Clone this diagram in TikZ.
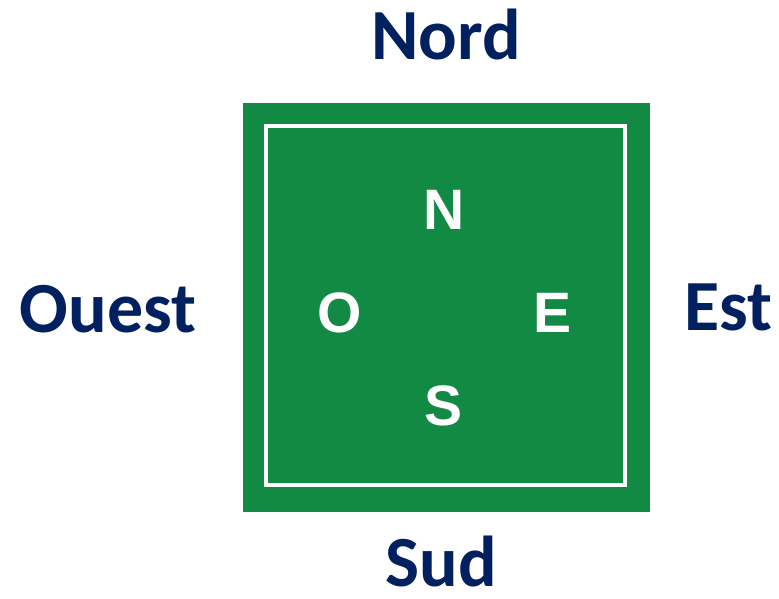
\documentclass[tikz,border=0pt]{standalone}
\usepackage{fontspec}
\setmainfont{Carlito}
\newfontfamily\letterfont{Liberation Sans}
\usetikzlibrary{positioning}

\definecolor{navy}{RGB}{0,32,96}
\definecolor{feltgreen}{RGB}{18,138,68}

\begin{document}
\begin{tikzpicture}[
    x=1pt, y=-1pt,
    direction/.style={anchor=base, inner sep=0pt, text=navy, font=\fontsize{72}{76}\selectfont\bfseries},
    letter/.style={anchor=base, inner sep=0pt, text=white, font=\letterfont\fontsize{57}{60}\selectfont\bfseries},
    frame/.style={draw=white, line width=3.5pt}
]

\useasboundingbox (0,0) rectangle (779,599);

% Board
\fill[feltgreen] (243,103) rectangle (650,512);
\draw[frame] (266,126) rectangle (625,485);

% Letters on the board
\node[letter] (n) at (444,229) {N};
\node[letter] (o) at (340,332) {O};
\node[letter] (e) at (553,332) {E};
\node[letter] (s) at (444,425) {S};

% Directions
\node[direction] (nord) at (446,60) {Nord};
\node[direction] (sud) at (441,586) {Sud};
\node[direction] (ouest) at (108,332) {Ouest};
\node[direction] (est) at (728,330) {Est};

\end{tikzpicture}
\end{document}
